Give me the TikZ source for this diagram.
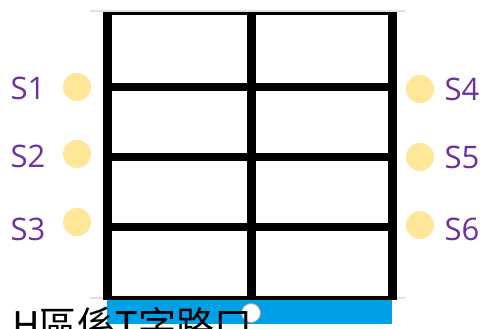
\documentclass[tikz,border=0pt]{standalone}
\usepackage{fontspec}
\usepackage{xcolor}
\usepackage{tikz}
\usetikzlibrary{positioning,calc}
\newfontfamily\labfont{Open Sans}
\newfontfamily\cjk{Noto Sans CJK TC}
\definecolor{spotyellow}{HTML}{FFE699}
\definecolor{labpurple}{HTML}{7030A0}
\definecolor{roadblue}{HTML}{00A0E6}
\tikzset{
  spot/.style={circle,fill=spotyellow,minimum size=28pt,inner sep=0pt},
  slabel/.style={text=labpurple,font=\labfont\fontsize{31}{31}\selectfont,inner sep=0pt},
}

\begin{document}
\begin{tikzpicture}[x=1pt,y=-1pt,line join=miter]
      \useasboundingbox (0,0) rectangle (483,329);
      \fill[white] (0,0) rectangle (483,329);
      \coordinate (TL) at (107.5,13.5);
      \coordinate (TR) at (392,13.5);
      \coordinate (BL) at (107.5,298);
      \coordinate (BR) at (392,298);
      % faint guide lines
      \draw[black!12,line width=1.5pt] (90,11) -- (405,11) (90,298) -- (405,298);
      % road
      \fill[roadblue] (107,299.5) rectangle (392,324);
      % grid
      \draw[line width=3.5pt] (TL) -- (TR) (BL) -- (BR);
      \foreach \y in {87,157,227}
        \draw[line width=8pt] (107.5,\y) -- (392,\y);
      \foreach \x in {107.5,251,392}
        \draw[line width=9pt] (\x,11.75) -- (\x,299.75);
      \node[circle,draw=black!35,fill=white,line width=0.8pt,minimum size=19pt,inner sep=0pt] (jn) at (251,313) {};
      % spots
      \node[spot] (p1) at (77,87) {};
      \node[spot] (p2) at (77,154) {};
      \node[spot] (p3) at (77,222) {};
      \node[spot] (p4) at (420,89) {};
      \node[spot] (p5) at (420,157) {};
      \node[spot] (p6) at (420,225) {};
      \node[slabel] (s1) at (28,88) {S1};
      \node[slabel] (s2) at (28,156) {S2};
      \node[slabel] (s3) at (28,229) {S3};
      \node[slabel] (s4) at (462,89) {S4};
      \node[slabel] (s5) at (462,157) {S5};
      \node[slabel] (s6) at (462,229) {S6};
      \node[anchor=base west,inner sep=0pt,font=\cjk\fontsize{38}{38}\selectfont] (cap) at (12,339) {H區係T字路口};
    \end{tikzpicture}
\end{document}
